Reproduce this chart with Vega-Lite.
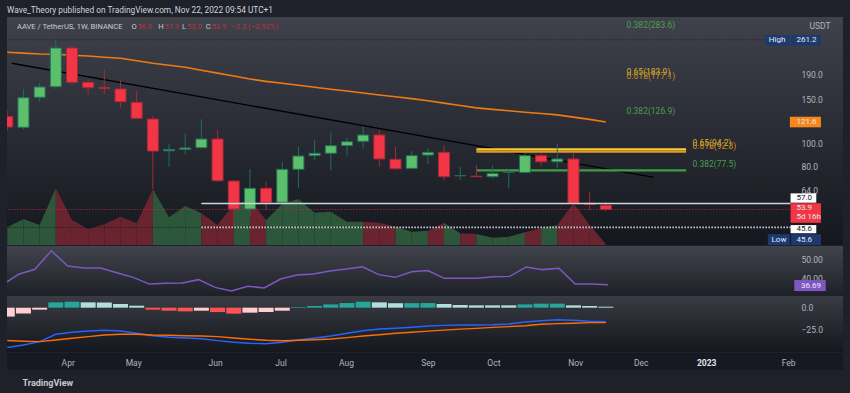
{
"$schema":"https://vega.github.io/schema/vega-lite/v6.json",
"background":"#1e2129",
"padding":{"left":7,"right":7,"top":5,"bottom":10},
"title":{"text":"Wave_Theory published on TradingView.com, Nov 22, 2022 09:54 UTC+1","anchor":"start","fontSize":8.3,"font":"Roboto","fontWeight":"normal","color":"#d1d4dc","offset":3},
"spacing":1,
"bounds":"flush",
"resolve":{"scale":{"x":"independent","y":"independent"}},
"datasets":{
"bars":[
{"d":"2022-03-07","o":128,"h":135,"l":112,"c":116,"dir":"down","ma":232.7,"rsi":36.5,"macd":-44.6,"sig":-36.8,"hist":-10.0,"hk":"negup"},
{"d":"2022-03-14","o":115.7,"h":165.3,"l":113.6,"c":152.4,"dir":"up","ma":230.8,"rsi":42.1,"macd":-41.8,"sig":-37.6,"hist":-6.4,"hk":"negup"},
{"d":"2022-03-21","o":153.0,"h":174.3,"l":146.8,"c":168.4,"dir":"up","ma":228.8,"rsi":44.7,"macd":-38.1,"sig":-38.1,"hist":-2.2,"hk":"negup"},
{"d":"2022-03-28","o":168.8,"h":261.2,"l":165.3,"c":242.0,"dir":"up","ma":228.2,"rsi":54.3,"macd":-29.8,"sig":-36.2,"hist":6.0,"hk":"posup"},
{"d":"2022-04-04","o":242.0,"h":246.0,"l":174.0,"c":175.9,"dir":"down","ma":226.3,"rsi":46.4,"macd":-27.6,"sig":-34.3,"hist":6.7,"hk":"posup"},
{"d":"2022-04-11","o":175.9,"h":181.4,"l":156.3,"c":167.3,"dir":"down","ma":224.6,"rsi":45.3,"macd":-26.1,"sig":-32.5,"hist":6.0,"hk":"posdn"},
{"d":"2022-04-18","o":167.5,"h":198.5,"l":157.7,"c":166.3,"dir":"down","ma":222.1,"rsi":45.3,"macd":-25.3,"sig":-30.6,"hist":5.8,"hk":"posdn"},
{"d":"2022-04-25","o":165.3,"h":179.2,"l":138.9,"c":146.8,"dir":"down","ma":219.9,"rsi":42.9,"macd":-26.1,"sig":-29.8,"hist":4.1,"hk":"posdn"},
{"d":"2022-05-02","o":146.0,"h":162.2,"l":125.0,"c":125.8,"dir":"down","ma":214.8,"rsi":40.5,"macd":-28.7,"sig":-29.8,"hist":2.2,"hk":"posdn"},
{"d":"2022-05-09","o":125.0,"h":128.6,"l":65.2,"c":92.8,"dir":"down","ma":209.9,"rsi":37.0,"macd":-31.4,"sig":-30.6,"hist":-2.2,"hk":"negdn"},
{"d":"2022-05-16","o":93.0,"h":98.8,"l":80.2,"c":94.2,"dir":"up","ma":206.0,"rsi":37.4,"macd":-33.2,"sig":-30.9,"hist":-3.4,"hk":"negdn"},
{"d":"2022-05-23","o":94.2,"h":109.4,"l":90.0,"c":95.5,"dir":"up","ma":202.2,"rsi":37.6,"macd":-34.0,"sig":-31.4,"hist":-4.1,"hk":"negdn"},
{"d":"2022-05-30","o":95.7,"h":124.7,"l":95.0,"c":103.8,"dir":"up","ma":196.8,"rsi":39.3,"macd":-34.8,"sig":-31.7,"hist":-3.4,"hk":"negup"},
{"d":"2022-06-06","o":103.8,"h":112.9,"l":69.8,"c":70.4,"dir":"down","ma":191.6,"rsi":35.3,"macd":-37.0,"sig":-32.5,"hist":-4.9,"hk":"negdn"},
{"d":"2022-06-13","o":70.2,"h":70.6,"l":45.6,"c":54.1,"dir":"down","ma":186.5,"rsi":33.4,"macd":-38.8,"sig":-34.0,"hist":-6.7,"hk":"negdn"},
{"d":"2022-06-20","o":54.1,"h":78.5,"l":50.9,"c":65.6,"dir":"up","ma":181.4,"rsi":35.9,"macd":-39.9,"sig":-35.4,"hist":-5.6,"hk":"negup"},
{"d":"2022-06-27","o":65.6,"h":69.8,"l":53.6,"c":57.6,"dir":"down","ma":177.4,"rsi":35.0,"macd":-40.4,"sig":-36.5,"hist":-4.9,"hk":"negup"},
{"d":"2022-07-04","o":57.6,"h":84.0,"l":56.0,"c":78.3,"dir":"up","ma":174.4,"rsi":39.6,"macd":-38.8,"sig":-37.0,"hist":-3.4,"hk":"negup"},
{"d":"2022-07-11","o":78.3,"h":96.6,"l":66.0,"c":88.6,"dir":"up","ma":171.2,"rsi":41.7,"macd":-36.2,"sig":-36.5,"hist":0.7,"hk":"posup"},
{"d":"2022-07-18","o":88.9,"h":102.8,"l":85.4,"c":90.9,"dir":"up","ma":167.9,"rsi":42.2,"macd":-34.0,"sig":-35.9,"hist":1.9,"hk":"posup"},
{"d":"2022-07-25","o":90.9,"h":110.1,"l":77.3,"c":97.5,"dir":"up","ma":164.9,"rsi":43.8,"macd":-31.7,"sig":-35.1,"hist":3.7,"hk":"posup"},
{"d":"2022-08-01","o":97.6,"h":105.1,"l":88.9,"c":101.2,"dir":"up","ma":162.1,"rsi":44.8,"macd":-28.7,"sig":-33.6,"hist":5.2,"hk":"posup"},
{"d":"2022-08-08","o":101.6,"h":116.4,"l":95.7,"c":107.7,"dir":"up","ma":159.2,"rsi":46.0,"macd":-25.8,"sig":-31.7,"hist":6.7,"hk":"posup"},
{"d":"2022-08-15","o":107.7,"h":112.9,"l":80.2,"c":86.2,"dir":"down","ma":156.4,"rsi":41.9,"macd":-23.9,"sig":-30.3,"hist":6.0,"hk":"posdn"},
{"d":"2022-08-22","o":85.9,"h":96.6,"l":78.0,"c":78.7,"dir":"down","ma":153.7,"rsi":40.5,"macd":-23.1,"sig":-28.7,"hist":5.0,"hk":"posdn"},
{"d":"2022-08-29","o":79.0,"h":92.8,"l":78.5,"c":88.9,"dir":"up","ma":151.1,"rsi":43.4,"macd":-22.0,"sig":-27.6,"hist":5.1,"hk":"posup"},
{"d":"2022-09-05","o":89.4,"h":95.2,"l":82.3,"c":91.7,"dir":"up","ma":148.2,"rsi":44.0,"macd":-20.5,"sig":-26.3,"hist":5.2,"hk":"posup"},
{"d":"2022-09-12","o":91.7,"h":97.5,"l":70.9,"c":73.1,"dir":"down","ma":144.9,"rsi":40.0,"macd":-19.8,"sig":-25.2,"hist":4.1,"hk":"posdn"},
{"d":"2022-09-19","o":73.8,"h":80.2,"l":71.0,"c":73.8,"dir":"up","ma":141.7,"rsi":40.0,"macd":-19.4,"sig":-24.0,"hist":3.0,"hk":"posdn"},
{"d":"2022-09-26","o":73.4,"h":81.5,"l":72.9,"c":73.1,"dir":"down","ma":138.7,"rsi":40.0,"macd":-19.4,"sig":-23.2,"hist":2.6,"hk":"posdn"},
{"d":"2022-10-03","o":73.1,"h":81.0,"l":72.0,"c":75.4,"dir":"up","ma":136.7,"rsi":40.8,"macd":-19.1,"sig":-22.1,"hist":2.6,"hk":"posdn"},
{"d":"2022-10-10","o":76.3,"h":77.8,"l":65.6,"c":76.3,"dir":"up","ma":135.0,"rsi":41.0,"macd":-18.3,"sig":-21.3,"hist":2.6,"hk":"posdn"},
{"d":"2022-10-17","o":76.1,"h":90.9,"l":75.5,"c":88.9,"dir":"up","ma":133.2,"rsi":45.9,"macd":-16.0,"sig":-20.2,"hist":3.7,"hk":"posup"},
{"d":"2022-10-24","o":88.9,"h":90.9,"l":81.0,"c":84.0,"dir":"down","ma":131.6,"rsi":44.5,"macd":-14.6,"sig":-18.6,"hist":4.5,"hk":"posup"},
{"d":"2022-10-31","o":84.0,"h":99.1,"l":79.0,"c":86.2,"dir":"up","ma":129.9,"rsi":45.2,"macd":-13.5,"sig":-17.9,"hist":4.5,"hk":"posup"},
{"d":"2022-11-07","o":86.2,"h":91.4,"l":56.8,"c":57.1,"dir":"down","ma":127.2,"rsi":37.0,"macd":-14.1,"sig":-17.5,"hist":2.6,"hk":"posdn"},
{"d":"2022-11-14","o":57.1,"h":63.2,"l":53.6,"c":56.5,"dir":"down","ma":124.6,"rsi":37.0,"macd":-15.2,"sig":-16.8,"hist":1.9,"hk":"posdn"},
{"d":"2022-11-21","o":56.0,"h":57.9,"l":53.0,"c":53.9,"dir":"down","ma":121.6,"rsi":36.69,"macd":-15.7,"sig":-16.8,"hist":1.1,"hk":"posdn"}
],
"vol":[
{"s":1,"d":"2022-03-07","v":177,"dir":"up"},{"s":1,"d":"2022-03-14","v":260,"dir":"up"},
{"s":2,"d":"2022-03-14","v":260,"dir":"up"},{"s":2,"d":"2022-03-21","v":200,"dir":"up"},
{"s":3,"d":"2022-03-21","v":200,"dir":"up"},{"s":3,"d":"2022-03-28","v":567,"dir":"up"},
{"s":4,"d":"2022-03-28","v":567,"dir":"down"},{"s":4,"d":"2022-04-04","v":250,"dir":"down"},
{"s":5,"d":"2022-04-04","v":250,"dir":"down"},{"s":5,"d":"2022-04-11","v":160,"dir":"down"},
{"s":6,"d":"2022-04-11","v":160,"dir":"down"},{"s":6,"d":"2022-04-18","v":207,"dir":"down"},
{"s":7,"d":"2022-04-18","v":207,"dir":"down"},{"s":7,"d":"2022-04-25","v":283,"dir":"down"},
{"s":8,"d":"2022-04-25","v":283,"dir":"down"},{"s":8,"d":"2022-05-02","v":217,"dir":"down"},
{"s":9,"d":"2022-05-02","v":217,"dir":"down"},{"s":9,"d":"2022-05-09","v":557,"dir":"down"},
{"s":10,"d":"2022-05-09","v":557,"dir":"up"},{"s":10,"d":"2022-05-16","v":277,"dir":"up"},
{"s":11,"d":"2022-05-16","v":277,"dir":"up"},{"s":11,"d":"2022-05-23","v":390,"dir":"up"},
{"s":12,"d":"2022-05-23","v":390,"dir":"up"},{"s":12,"d":"2022-05-30","v":317,"dir":"up"},
{"s":13,"d":"2022-05-30","v":317,"dir":"down"},{"s":13,"d":"2022-06-06","v":200,"dir":"down"},
{"s":14,"d":"2022-06-06","v":200,"dir":"down"},{"s":14,"d":"2022-06-13","v":410,"dir":"down"},
{"s":15,"d":"2022-06-13","v":410,"dir":"up"},{"s":15,"d":"2022-06-20","v":450,"dir":"up"},
{"s":16,"d":"2022-06-20","v":450,"dir":"down"},{"s":16,"d":"2022-06-27","v":250,"dir":"down"},
{"s":17,"d":"2022-06-27","v":250,"dir":"up"},{"s":17,"d":"2022-07-04","v":410,"dir":"up"},
{"s":18,"d":"2022-07-04","v":410,"dir":"up"},{"s":18,"d":"2022-07-11","v":460,"dir":"up"},
{"s":19,"d":"2022-07-11","v":460,"dir":"up"},{"s":19,"d":"2022-07-18","v":323,"dir":"up"},
{"s":20,"d":"2022-07-18","v":323,"dir":"up"},{"s":20,"d":"2022-07-25","v":333,"dir":"up"},
{"s":21,"d":"2022-07-25","v":333,"dir":"up"},{"s":21,"d":"2022-08-01","v":233,"dir":"up"},
{"s":22,"d":"2022-08-01","v":233,"dir":"up"},{"s":22,"d":"2022-08-08","v":233,"dir":"up"},
{"s":23,"d":"2022-08-08","v":233,"dir":"down"},{"s":23,"d":"2022-08-15","v":223,"dir":"down"},
{"s":24,"d":"2022-08-15","v":223,"dir":"down"},{"s":24,"d":"2022-08-22","v":183,"dir":"down"},
{"s":25,"d":"2022-08-22","v":183,"dir":"up"},{"s":25,"d":"2022-08-29","v":133,"dir":"up"},
{"s":26,"d":"2022-08-29","v":133,"dir":"up"},{"s":26,"d":"2022-09-05","v":143,"dir":"up"},
{"s":27,"d":"2022-09-05","v":143,"dir":"down"},{"s":27,"d":"2022-09-12","v":223,"dir":"down"},
{"s":28,"d":"2022-09-12","v":223,"dir":"up"},{"s":28,"d":"2022-09-19","v":117,"dir":"up"},
{"s":29,"d":"2022-09-19","v":117,"dir":"down"},{"s":29,"d":"2022-09-26","v":110,"dir":"down"},
{"s":30,"d":"2022-09-26","v":110,"dir":"up"},{"s":30,"d":"2022-10-03","v":73,"dir":"up"},
{"s":31,"d":"2022-10-03","v":73,"dir":"up"},{"s":31,"d":"2022-10-10","v":83,"dir":"up"},
{"s":32,"d":"2022-10-10","v":83,"dir":"up"},{"s":32,"d":"2022-10-17","v":127,"dir":"up"},
{"s":33,"d":"2022-10-17","v":127,"dir":"down"},{"s":33,"d":"2022-10-24","v":167,"dir":"down"},
{"s":34,"d":"2022-10-24","v":167,"dir":"up"},{"s":34,"d":"2022-10-31","v":200,"dir":"up"},
{"s":35,"d":"2022-10-31","v":200,"dir":"down"},{"s":35,"d":"2022-11-07","v":417,"dir":"down"},
{"s":36,"d":"2022-11-07","v":417,"dir":"down"},{"s":36,"d":"2022-11-14","v":200,"dir":"down"},
{"s":37,"d":"2022-11-14","v":200,"dir":"down"},{"s":37,"d":"2022-11-21","v":10,"dir":"down"}
],
"trend":[{"d":"2022-03-09","p":210},{"d":"2022-12-11T20:00:00Z","p":72.7}],
"hl":[
{"d1":"2022-03-01","d2":"2023-01-28T23:00:00Z","p":261.2,"k":"hi"},
{"d1":"2022-03-01","d2":"2023-02-08T22:50:00Z","p":45.6,"k":"lo"},
{"d1":"2022-03-01","d2":"2023-02-08T22:50:00Z","p":53.9,"k":"px"},
{"d1":"2022-05-30","d2":"2023-02-08T22:50:00Z","p":57.0,"k":"w"},
{"d1":"2022-05-30","d2":"2023-02-08T22:50:00Z","p":45.6,"k":"wd"},
{"d1":"2022-09-26","d2":"2022-12-25T18:00:00Z","p":94.2,"k":"f65"},
{"d1":"2022-09-26","d2":"2022-12-25T18:00:00Z","p":92.3,"k":"f618"},
{"d1":"2022-09-26","d2":"2022-12-25T18:00:00Z","p":77.5,"k":"f382"}
],
"fib":[
{"d":"2022-11-29T23:30:00Z","p":283.6,"t":"0.382(283.6)","k":"g"},
{"d":"2022-11-29T23:30:00Z","p":183.9,"t":"0.65(183.9)","k":"y"},
{"d":"2022-11-29T23:30:00Z","p":177.1,"t":"0.618(177.1)","k":"o"},
{"d":"2022-11-29T23:30:00Z","p":126.9,"t":"0.382(126.9)","k":"g"},
{"d":"2022-12-28T11:45:00Z","p":94.2,"t":"0.65(94.2)","k":"y"},
{"d":"2022-12-28T11:45:00Z","p":92.3,"t":"0.618(92.3)","k":"o"},
{"d":"2022-12-28T11:45:00Z","p":77.5,"t":"0.382(77.5)","k":"g"}
],
"leg":[
{"d":"2022-03-11T04:30:00Z","t":"AAVE / TetherUS, 1W, BINANCE","k":"l"},
{"d":"2022-04-29T18:40:00Z","t":"O","k":"l"},
{"d":"2022-05-02T08:24:00Z","t":"56.0","k":"v"},
{"d":"2022-05-11T07:40:00Z","t":"H","k":"l"},
{"d":"2022-05-13T21:20:00Z","t":"57.9","k":"v"},
{"d":"2022-05-21T14:00:00Z","t":"L","k":"l"},
{"d":"2022-05-23T17:20:00Z","t":"53.0","k":"v"},
{"d":"2022-05-31T20:24:00Z","t":"C","k":"l"},
{"d":"2022-06-03T09:50:00Z","t":"53.9","k":"v"},
{"d":"2022-06-11T23:00:00Z","t":"−2.2 (−3.92%)","k":"v"}
],
"box":[
{"x1":"2023-01-28T23:00:00Z","x2":"2023-02-08T15:30:00Z","p1":273.1,"p2":247.2,"k":"nv"},
{"x1":"2023-02-09T03:50:00Z","x2":"2023-02-22T02:00:00Z","p1":273.1,"p2":247.2,"k":"nv"},
{"x1":"2023-02-08T15:30:00Z","x2":"2023-02-22T02:00:00Z","p1":127.7,"p2":115.7,"k":"or"},
{"x1":"2023-02-08T22:50:00Z","x2":"2023-02-20T01:40:00Z","p1":62.6,"p2":57.4,"k":"wh"},
{"x1":"2023-02-08T22:50:00Z","x2":"2023-02-22T02:00:00Z","p1":57.1,"p2":47.6,"k":"rd"},
{"x1":"2023-02-08T22:50:00Z","x2":"2023-02-20T01:40:00Z","p1":46.6,"p2":43.2,"k":"wh"},
{"x1":"2023-01-30T02:40:00Z","x2":"2023-02-08T15:30:00Z","p1":42.8,"p2":38.72,"k":"nv"},
{"x1":"2023-02-09T03:50:00Z","x2":"2023-02-22T02:00:00Z","p1":42.8,"p2":38.72,"k":"nv"}
],
"bt":[
{"d":"2023-01-30T13:00:00Z","p":260,"t":"High","k":"lt"},
{"d":"2023-02-11T12:00:00Z","p":260,"t":"261.2","k":"lt"},
{"d":"2023-02-11T12:00:00Z","p":121.6,"t":"121.6","k":"lt"},
{"d":"2023-02-11T12:00:00Z","p":59.9,"t":"57.0","k":"dk"},
{"d":"2023-02-11T12:00:00Z","p":54.4,"t":"53.9","k":"lt"},
{"d":"2023-02-11T12:00:00Z","p":50.2,"t":"5d 16h","k":"lt"},
{"d":"2023-02-11T12:00:00Z","p":44.9,"t":"45.6","k":"dk"},
{"d":"2023-01-31T16:50:00Z","p":40.7,"t":"Low","k":"lt"},
{"d":"2023-02-11T12:00:00Z","p":40.7,"t":"45.6","k":"lt"}
]
},
"vconcat":[
{
"width":836,"height":228,
"view":{"stroke":null,"fill":{"gradient":"linear","x1":0,"y1":0,"x2":0,"y2":1,"stops":[{"offset":0,"color":"#3f424b"},{"offset":0.5,"color":"#2a2c35"},{"offset":1,"color":"#15171e"}]}},
"resolve":{"scale":{"y":"independent"}},
"layer":[
{"data":{"name":"vol"},"mark":{"type":"area","clip":true},
 "encoding":{
  "x":{"field":"d","type":"temporal","scale":{"type":"utc","domain":[{"year":2022,"month":3,"date":9,"hours":1,"minutes":12,"utc":true},{"year":2023,"month":3,"date":1,"hours":11,"minutes":17,"utc":true}]},"axis":null},
  "y":{"field":"v","type":"quantitative","stack":null,"scale":{"domain":[0,2280],"nice":false},"axis":null},
  "detail":{"field":"s","type":"nominal"},
  "color":{"condition":{"test":"datum.dir==='up'","value":"#2c573a"},"value":"#6a2430"}}},
{"layer":[
 {"data":{"name":"bars"},"mark":{"type":"line","color":"#ef7a12","strokeWidth":1.6,"clip":true},
  "encoding":{
   "x":{"field":"d","type":"temporal","scale":{"type":"utc","domain":[{"year":2022,"month":3,"date":9,"hours":1,"minutes":12,"utc":true},{"year":2023,"month":3,"date":1,"hours":11,"minutes":17,"utc":true}]},"axis":null},
   "y":{"field":"ma","type":"quantitative","scale":{"type":"log","domain":[38.72,322.9],"nice":false,"zero":false},
    "axis":{"orient":"right","offset":-48,"values":[64,80,100,150,190],"format":".1f","labels":true,"labelOverlap":false,"labelColor":"#b2b5be","labelFontSize":8.5,"labelFont":"Roboto","labelOpacity":1,"labelPadding":6,"labelAlign":"left","labelBaseline":"middle","title":"USDT","titleAngle":0,"titleX":14,"titleY":8,"titleAlign":"left","titleBaseline":"middle","titleColor":"#b2b5be","titleFontSize":8.5,"titleFontWeight":"normal","titleFont":"Roboto"}}}},
 {"data":{"name":"trend"},"mark":{"type":"line","color":"#000000","strokeWidth":1.3,"clip":true},
  "encoding":{"x":{"field":"d","type":"temporal"},"y":{"field":"p","type":"quantitative"}}},
 {"data":{"name":"hl"},"transform":[{"filter":"datum.k==='hi'||datum.k==='lo'"}],"mark":{"type":"rule","color":"#121419","strokeDash":[1,2],"strokeWidth":1,"clip":true},
  "encoding":{"x":{"field":"d1","type":"temporal"},"x2":{"field":"d2"},"y":{"field":"p","type":"quantitative"}}},
 {"data":{"name":"hl"},"transform":[{"filter":"datum.k==='px'"}],"mark":{"type":"rule","color":"#c0303c","strokeDash":[1,2],"strokeWidth":1,"clip":true},
  "encoding":{"x":{"field":"d1","type":"temporal"},"x2":{"field":"d2"},"y":{"field":"p","type":"quantitative"}}},
 {"data":{"name":"hl"},"transform":[{"filter":"indexof(datum.k,'f')===0"}],"mark":{"type":"rule","strokeWidth":2.2,"clip":true},
  "encoding":{"x":{"field":"d1","type":"temporal"},"x2":{"field":"d2"},"y":{"field":"p","type":"quantitative"},
   "color":{"condition":[{"test":"datum.k==='f65'","value":"#f2cf3a"},{"test":"datum.k==='f618'","value":"#e8971e"}],"value":"#3f9e44"}}},
 {"data":{"name":"bars"},"mark":{"type":"rule","strokeWidth":1,"clip":true},
  "encoding":{"x":{"field":"d","type":"temporal"},"y":{"field":"l","type":"quantitative"},"y2":{"field":"h"},
   "color":{"condition":{"test":"datum.dir==='up'","value":"#1f6e5e"},"value":"#a12b39"}}},
 {"data":{"name":"bars"},"mark":{"type":"bar","width":11,"strokeWidth":1,"clip":true},
  "encoding":{"x":{"field":"d","type":"temporal"},"y":{"field":"o","type":"quantitative"},"y2":{"field":"c"},
   "fill":{"condition":{"test":"datum.dir==='up'","value":"#5cbf6b"},"value":"#f23645"},
   "stroke":{"condition":{"test":"datum.dir==='up'","value":"#22705a"},"value":"#a8293a"}}},
 {"data":{"name":"hl"},"transform":[{"filter":"datum.k==='w'"}],"mark":{"type":"rule","color":"#d1d4dc","strokeWidth":1.6,"clip":true},
  "encoding":{"x":{"field":"d1","type":"temporal"},"x2":{"field":"d2"},"y":{"field":"p","type":"quantitative"}}},
 {"data":{"name":"hl"},"transform":[{"filter":"datum.k==='wd'"}],"mark":{"type":"rule","color":"#d1d4dc","strokeDash":[1.5,1.5],"strokeWidth":1.6,"clip":true},
  "encoding":{"x":{"field":"d1","type":"temporal"},"x2":{"field":"d2"},"y":{"field":"p","type":"quantitative"}}},
 {"data":{"name":"leg"},"mark":{"type":"text","align":"left","baseline":"middle","fontSize":7.6,"font":"Roboto"},
  "encoding":{"x":{"field":"d","type":"temporal"},"y":{"datum":294.2,"type":"quantitative"},"text":{"field":"t"},
   "color":{"condition":{"test":"datum.k==='v'","value":"#b8323e"},"value":"#c8cad2"}}},
 {"data":{"name":"fib"},"mark":{"type":"text","align":"left","baseline":"middle","dy":-6,"fontSize":8.5,"font":"Roboto"},
  "encoding":{"x":{"field":"d","type":"temporal"},"y":{"field":"p","type":"quantitative"},"text":{"field":"t"},
   "color":{"condition":[{"test":"datum.k==='y'","value":"#d9b526"},{"test":"datum.k==='o'","value":"#c98a22"}],"value":"#4a9e4e"}}},
 {"data":{"name":"box"},"mark":{"type":"rect"},
  "encoding":{"x":{"field":"x1","type":"temporal"},"x2":{"field":"x2"},"y":{"field":"p1","type":"quantitative"},"y2":{"field":"p2"},
   "color":{"condition":[{"test":"datum.k==='nv'","value":"#1c3a6e"},{"test":"datum.k==='or'","value":"#f7861b"},{"test":"datum.k==='wh'","value":"#ffffff"}],"value":"#f23645"}}},
 {"data":{"name":"bt"},"mark":{"type":"text","align":"left","baseline":"middle","fontSize":8,"font":"Roboto"},
  "encoding":{"x":{"field":"d","type":"temporal"},"y":{"field":"p","type":"quantitative"},"text":{"field":"t"},
   "color":{"condition":{"test":"datum.k==='dk'","value":"#131722"},"value":"#e8eaf0"}}}
]}
]
},
{
"width":836,"height":49,
"view":{"stroke":null,"fill":{"gradient":"linear","x1":0,"y1":0,"x2":0,"y2":1,"stops":[{"offset":0,"color":"#42444d"},{"offset":1,"color":"#1f2128"}]}},
"layer":[
 {"data":{"name":"bars"},"mark":{"type":"line","color":"#7e57c2","strokeWidth":1.5,"clip":true},
  "encoding":{
   "x":{"field":"d","type":"temporal","scale":{"type":"utc","domain":[{"year":2022,"month":3,"date":9,"hours":1,"minutes":12,"utc":true},{"year":2023,"month":3,"date":1,"hours":11,"minutes":17,"utc":true}]},"axis":null},
   "y":{"field":"rsi","type":"quantitative","scale":{"domain":[31.35,56.74],"nice":false,"zero":false},
    "axis":{"orient":"right","offset":-48,"values":[40,50],"format":".2f","labels":true,"labelOverlap":false,"labelColor":"#b2b5be","labelFontSize":8.5,"labelFont":"Roboto","labelOpacity":1,"labelPadding":6,"labelAlign":"left","labelBaseline":"middle","title":null}}}},
 {"data":{"values":[{"x1":"2023-02-08T15:30:00Z","x2":"2023-02-22T02:00:00Z","r1":39.1,"r2":33.4}]},"mark":{"type":"rect","color":"#7e57c2"},
  "encoding":{"x":{"field":"x1","type":"temporal"},"x2":{"field":"x2"},"y":{"field":"r1","type":"quantitative"},"y2":{"field":"r2"}}},
 {"data":{"values":[{"d":"2023-02-11T12:00:00Z","r":36.27,"t":"36.69"}]},"mark":{"type":"text","align":"left","baseline":"middle","fontSize":8,"font":"Roboto","color":"#eeeaf8"},
  "encoding":{"x":{"field":"d","type":"temporal"},"y":{"field":"r","type":"quantitative"},"text":{"field":"t"}}}
]
},
{
"width":836,"height":56,
"view":{"stroke":null,"fill":{"gradient":"linear","x1":0,"y1":0,"x2":0,"y2":1,"stops":[{"offset":0,"color":"#3a3c44"},{"offset":1,"color":"#15171e"}]}},
"layer":[
 {"data":{"name":"bars"},"mark":{"type":"bar","width":15,"clip":true},
  "encoding":{
   "x":{"field":"d","type":"temporal","scale":{"type":"utc","domain":[{"year":2022,"month":3,"date":9,"hours":1,"minutes":12,"utc":true},{"year":2023,"month":3,"date":1,"hours":11,"minutes":17,"utc":true}]},"axis":null},
   "y":{"field":"hist","type":"quantitative","scale":{"domain":[-49.7,13.1],"nice":false,"zero":false},
    "axis":{"orient":"right","offset":-48,"values":[0,-25],"format":".1f","labels":true,"labelOverlap":false,"labelColor":"#b2b5be","labelFontSize":8.5,"labelFont":"Roboto","labelOpacity":1,"labelPadding":6,"labelAlign":"left","labelBaseline":"middle","title":null}},
   "y2":{"datum":0},
   "color":{"condition":[{"test":"datum.hk==='posup'","value":"#26a69a"},{"test":"datum.hk==='posdn'","value":"#b2dfdb"},{"test":"datum.hk==='negdn'","value":"#ff5252"}],"value":"#ffcdd2"}}},
 {"data":{"name":"bars"},"mark":{"type":"line","color":"#2962ff","strokeWidth":1.4,"clip":true},
  "encoding":{"x":{"field":"d","type":"temporal"},"y":{"field":"macd","type":"quantitative"}}},
 {"data":{"name":"bars"},"mark":{"type":"line","color":"#ff6d00","strokeWidth":1.4,"clip":true},
  "encoding":{"x":{"field":"d","type":"temporal"},"y":{"field":"sig","type":"quantitative"}}}
]
},
{
"width":836,"height":17,
"view":{"stroke":null,"fill":"#161921"},
"data":{"name":"bars"},
"mark":{"type":"rule","opacity":0,"clip":true},
"encoding":{
 "x":{"field":"d","type":"temporal","scale":{"type":"utc","domain":[{"year":2022,"month":3,"date":9,"hours":1,"minutes":12,"utc":true},{"year":2023,"month":3,"date":1,"hours":11,"minutes":17,"utc":true}]},
  "axis":{"orient":"bottom","offset":-17,
   "values":[{"year":2022,"month":4,"date":4,"utc":true},{"year":2022,"month":5,"date":2,"utc":true},{"year":2022,"month":6,"date":6,"utc":true},{"year":2022,"month":7,"date":4,"utc":true},{"year":2022,"month":8,"date":1,"utc":true},{"year":2022,"month":9,"date":5,"utc":true},{"year":2022,"month":10,"date":3,"utc":true},{"year":2022,"month":11,"date":7,"utc":true},{"year":2022,"month":12,"date":5,"utc":true},{"year":2023,"month":1,"date":2,"utc":true},{"year":2023,"month":2,"date":6,"utc":true}],
   "labelExpr":"utcmonth(datum.value)===0 ? utcFormat(datum.value,'%Y') : utcFormat(datum.value,'%b')",
   "labelBaseline":"middle","labelAlign":"center","labelPadding":9,
   "labelFontWeight":{"condition":{"test":"utcmonth(datum.value)===0","value":"bold"},"value":"normal"},
   "labelColor":{"condition":{"test":"utcmonth(datum.value)===0","value":"#e0e3eb"},"value":"#b2b5be"},
   "title":"TradingView","titleX":15,"titleY":29,"titleAlign":"left","titleAnchor":"start","titleBaseline":"middle","titleColor":"#c8cad0","titleFontSize":9,"titleFontWeight":"bold","titleFont":"Roboto"}}
}
}
],
"config":{
 "font":"Roboto",
 "view":{"stroke":null},
 "axis":{"domain":false,"ticks":false,"tickSize":0,"grid":false,"labelColor":"#b2b5be","labelFontSize":8.5,"labelFont":"Roboto","labelOverlap":false,"labelFlush":false},
 "text":{"font":"Roboto"}
}
}
